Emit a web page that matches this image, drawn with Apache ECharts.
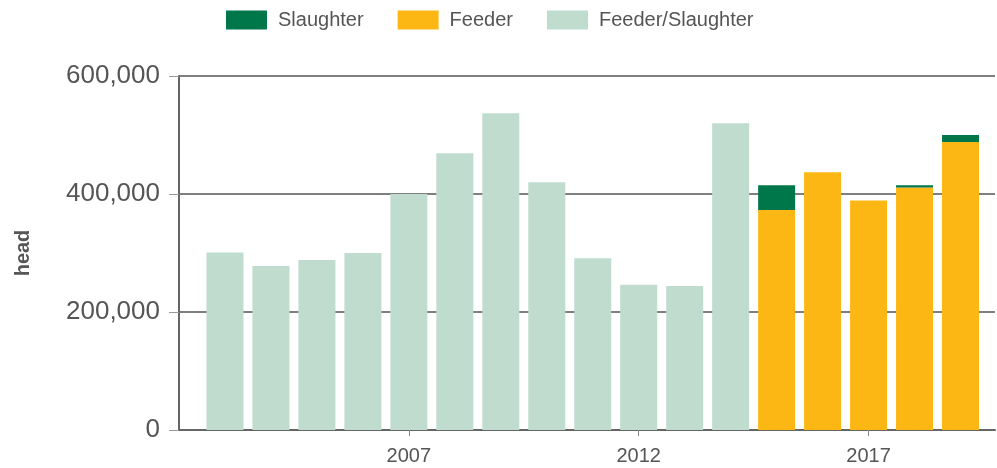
<!DOCTYPE html>
<html><head><meta charset="utf-8">
<script src="https://cdn.jsdelivr.net/npm/echarts@6/dist/echarts.min.js"></script>
<style>html,body{margin:0;padding:0;background:#fff}#c{width:997px;height:468px}</style>
</head><body><div id="c"></div>
<script>
const years = [2003,2004,2005,2006,2007,2008,2009,2010,2011,2012,2013,2014,2015,2016,2017,2018,2019];
const feederSlaughter = [301000,278000,288000,300000,400000,469000,537000,420000,291000,246000,244000,520000,null,null,null,null,null];
const feeder = [null,null,null,null,null,null,null,null,null,null,null,null,373000,437000,389000,411000,488000];
const slaughter = [null,null,null,null,null,null,null,null,null,null,null,null,42000,0,0,4000,12000];
const yTicks = [0,200000,400000,600000];

// [value, year] so the value dimension comes first and is the stacked one
function pairs(arr){ return years.map((y,i)=>[arr[i]===null ? 0 : arr[i], y]); }

const chart = echarts.init(document.getElementById('c'));
const barW = 37;
const font = 'Liberation Sans, Arial';
const enc = {x:1, y:0};
chart.setOption({
  animation:false,
  legend:{
    data:['Slaughter','Feeder','Feeder/Slaughter'],
    top:5, left:221, icon:'rect', itemWidth:41, itemHeight:19, itemGap:34,
    textStyle:{fontFamily:font, fontSize:20, color:'#555', padding:[0,0,0,6]}
  },
  grid:{left:179, right:2, top:76, bottom:38, containLabel:false},
  xAxis:{
    type:'value', min:2002, max:2019.75, interval:5,
    axisLine:{show:true, lineStyle:{color:'#666', width:2}},
    axisTick:{show:true, length:6, lineStyle:{color:'#888'}},
    splitLine:{show:false},
    axisLabel:{showMinLabel:false, showMaxLabel:false, fontFamily:font, fontSize:20, color:'#555', margin:16,
      formatter:v=>String(v)}
  },
  yAxis:{
    type:'value', min:0, max:600000, interval:200000,
    name:'head', nameLocation:'middle', nameGap:146, nameRotate:90,
    nameTextStyle:{fontFamily:font, fontSize:20, fontWeight:'bold', color:'#555'},
    axisLine:{show:true, lineStyle:{color:'#666', width:2}},
    axisTick:{show:true, length:10, lineStyle:{color:'#999'}},
    splitLine:{show:true, lineStyle:{color:'#555', width:1.5}},
    axisLabel:{fontFamily:font, fontSize:26, color:'#555', margin:19,
      formatter:v=> yTicks.includes(v) ? v.toLocaleString('en-US') : ''}
  },
  series:[
    {name:'Feeder', type:'bar', stack:'a', barWidth:barW, encode:enc, data:pairs(feeder), itemStyle:{color:'#FDB714'}},
    {name:'Slaughter', type:'bar', stack:'a', barWidth:barW, encode:enc, data:pairs(slaughter), itemStyle:{color:'#00774A'}},
    {name:'Feeder/Slaughter', type:'bar', stack:'a', barWidth:barW, encode:enc, data:pairs(feederSlaughter), itemStyle:{color:'#BFDCCF'}}
  ]
});
</script></body></html>
